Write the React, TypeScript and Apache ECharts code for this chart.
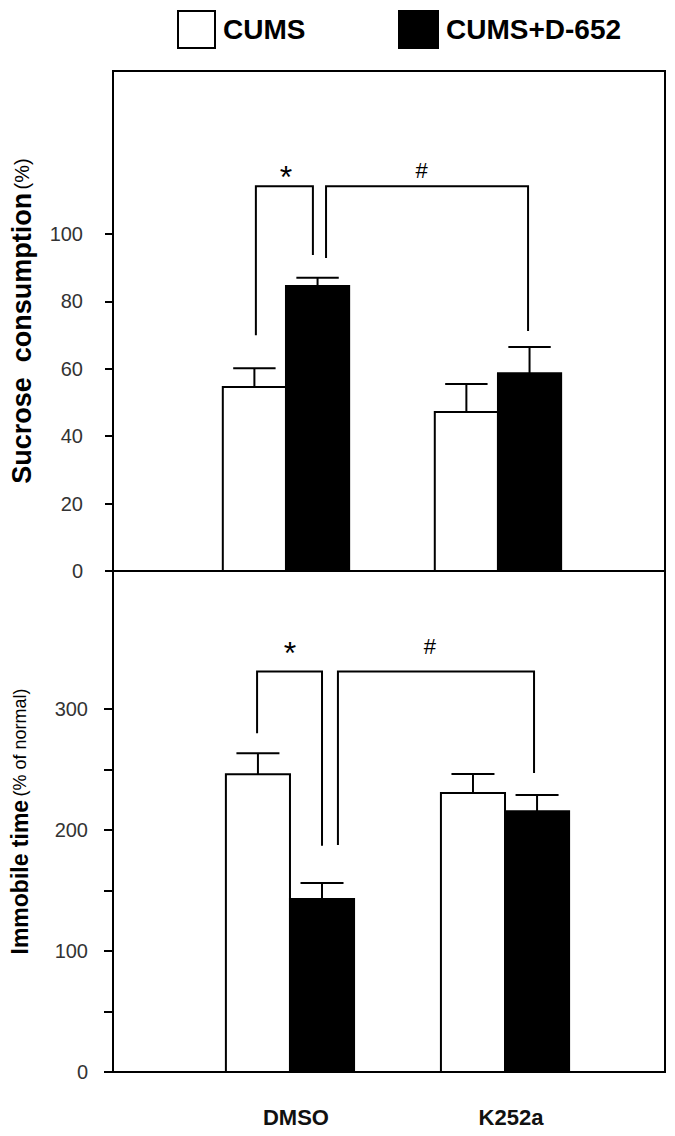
import React, { useEffect, useRef } from "react";
import * as echarts from "echarts";

// ---------- data ----------
const groups = ["DMSO", "K252a"];

const sucroseCUMS = [54.6, 47.2];
const sucroseCUMSErr = [5.6, 8.3];
const sucroseD652 = [84.6, 58.7];
const sucroseD652Err = [2.4, 7.8];

const immobileCUMS = [246, 230.5];
const immobileCUMSErr = [17.5, 15.8];
const immobileD652 = [143, 215.5];
const immobileD652Err = [13.2, 13.4];

const sucroseTicks = [0, 20, 40, 60, 80, 100];
const immobileTicks = [0, 50, 100, 150, 200, 250, 300];
const immobileLabels = [0, 100, 200, 300];

// significance brackets (data units): from, to, leftEnd, rightEnd, top, markX, markY
const sucroseBrackets = [
  [0.858, 1.127, 70, 93.8, 114.2, 1.0, 116.8],
  [1.189, 2.142, 92.9, 71.2, 114.2, 1.64, 119],
];
const sucroseMarks = ["*", "#"];
const immobileBrackets = [
  [0.847, 1.149, 280, 187, 331, 1.0, 346.5],
  [1.223, 2.135, 187.6, 247, 331, 1.651, 352],
];
const immobileMarks = ["*", "#"];

const FONT = "'Liberation Sans', Arial, sans-serif";
const BAR_W = 0.298;
const CAP_W = 0.2;

function barSeries(name: string, vals: number[], errs: number[], side: number, axis: number, fill: string) {
  return {
    type: "custom",
    name,
    xAxisIndex: axis,
    yAxisIndex: axis,
    itemStyle: { color: fill, borderColor: "#000", borderWidth: 2 },
    encode: { x: 0, y: 1 },
    data: vals.map((v, i) => [i + 1, v, errs[i]]),
    renderItem: (params: any, api: any) => {
      const x = api.value(0);
      const v = api.value(1);
      const e = api.value(2);
      const x0 = side < 0 ? x - BAR_W : x;
      const x1 = x0 + BAR_W;
      const xm = x0 + BAR_W / 2;
      const pBase = api.coord([x0, 0]);
      const pTop = api.coord([x1, v]);
      const pc = api.coord([xm, v]);
      const pe = api.coord([xm, v + e]);
      const cl = api.coord([xm - CAP_W / 2, v + e]);
      const cr = api.coord([xm + CAP_W / 2, v + e]);
      const ls = { stroke: "#000", lineWidth: 2 };
      return {
        type: "group",
        children: [
          { type: "line", shape: { x1: pc[0], y1: pc[1], x2: pe[0], y2: pe[1] }, style: ls },
          { type: "line", shape: { x1: cl[0], y1: cl[1], x2: cr[0], y2: cr[1] }, style: ls },
          {
            type: "rect",
            shape: { x: pBase[0], y: pTop[1], width: pTop[0] - pBase[0], height: pBase[1] - pTop[1] },
            style: { fill, stroke: "#000", lineWidth: 2 },
          },
        ],
      };
    },
  };
}

function bracketSeries(data: number[][], marks: string[], axis: number, markSizes: number[]) {
  return {
    type: "custom",
    name: "significance",
    xAxisIndex: axis,
    yAxisIndex: axis,
    silent: true,
    encode: { x: [0, 1], y: [2, 3, 4] },
    data,
    renderItem: (params: any, api: any) => {
      const from = api.value(0);
      const to = api.value(1);
      const le = api.value(2);
      const re = api.value(3);
      const top = api.value(4);
      const mx = api.value(5);
      const my = api.value(6);
      const pts = [api.coord([from, le]), api.coord([from, top]), api.coord([to, top]), api.coord([to, re])];
      const pm = api.coord([mx, my]);
      const mark = marks[params.dataIndex];
      return {
        type: "group",
        children: [
          { type: "polyline", shape: { points: pts }, style: { stroke: "#000", lineWidth: 2, fill: "none" } },
          {
            type: "text",
            x: pm[0],
            y: pm[1],
            style: {
              text: mark,
              fontSize: markSizes[params.dataIndex],
              fontFamily: FONT,
              align: "center",
              verticalAlign: "middle",
              fill: "#000",
            },
          },
        ],
      };
    },
  };
}

export default function App() {
  const ref = useRef<HTMLDivElement>(null);
  useEffect(() => {
    document.body.style.margin = "0";
    const chart = echarts.init(ref.current!, null, { renderer: "svg" });
    const axisLineStyle = { color: "#000", width: 2 };
    const legendText = { fontFamily: FONT, fontWeight: "bold", fontSize: 28, color: "#000", padding: [0, 0, 0, 3] };
    chart.setOption({
      animation: false,
      backgroundColor: "#fff",
      legend: [
        {
          left: 172,
          top: 5,
          itemWidth: 37,
          itemHeight: 37,
          selectedMode: false,
          textStyle: legendText,
          data: [{ name: "CUMS", icon: "rect", itemStyle: { color: "#fff", borderColor: "#000", borderWidth: 2 } }],
        },
        {
          left: 393,
          top: 5,
          itemWidth: 39,
          itemHeight: 37,
          selectedMode: false,
          textStyle: legendText,
          data: [{ name: "CUMS+D-652", icon: "rect", itemStyle: { color: "#000", borderColor: "#000", borderWidth: 2 } }],
        },
      ],
      grid: [
        { left: 113, top: 71, width: 552, height: 500, show: true, borderColor: "#000", borderWidth: 2, backgroundColor: "transparent" },
        { left: 113, top: 571, width: 552, height: 501, show: true, borderColor: "#000", borderWidth: 2, backgroundColor: "transparent" },
      ],
      xAxis: [
        { type: "value", gridIndex: 0, min: 0.184, max: 2.788, show: false },
        {
          type: "value",
          gridIndex: 1,
          min: 0.177,
          max: 2.744,
          axisLine: { show: false },
          axisTick: { show: false },
          splitLine: { show: false },
          axisLabel: {
            customValues: [1, 2],
            formatter: (v: number) => groups[Math.round(v) - 1],
            margin: 34,
            fontSize: 22,
            fontWeight: "bold",
            fontFamily: FONT,
            color: "#111",
            padding: [0, 0, 0, 12],
          },
        },
      ],
      yAxis: [
        {
          type: "value",
          gridIndex: 0,
          min: 0,
          max: 148.4,
          axisLine: { show: true, lineStyle: axisLineStyle },
          axisTick: { show: true, length: 8, customValues: sucroseTicks, lineStyle: axisLineStyle },
          axisLabel: { customValues: sucroseTicks, margin: 30, fontSize: 20, fontFamily: FONT, color: "#333" },
          splitLine: { show: false },
          name: "{b|Sucrose  consumption} {n|(%)}",
          nameLocation: "middle",
          nameRotate: 90,
          nameGap: 78,
          nameTextStyle: {
            rich: {
              b: { fontSize: 27, fontWeight: "bold", fontFamily: FONT, color: "#000" },
              n: { fontSize: 20, fontFamily: FONT, color: "#000" },
            },
          },
        },
        {
          type: "value",
          gridIndex: 1,
          min: 0,
          max: 414,
          axisLine: { show: true, lineStyle: axisLineStyle },
          axisTick: { show: true, length: 9, customValues: immobileTicks, lineStyle: axisLineStyle },
          axisLabel: { customValues: immobileLabels, margin: 25, fontSize: 20, fontFamily: FONT, color: "#333" },
          splitLine: { show: false },
          name: "{b|Immobile time} {n|(% of normal)}",
          nameLocation: "middle",
          nameRotate: 90,
          nameGap: 82,
          nameTextStyle: {
            rich: {
              b: { fontSize: 23, fontWeight: "bold", fontFamily: FONT, color: "#000" },
              n: { fontSize: 18, fontFamily: FONT, color: "#000" },
            },
          },
        },
      ],
      series: [
        barSeries("CUMS", sucroseCUMS, sucroseCUMSErr, -1, 0, "#fff"),
        barSeries("CUMS+D-652", sucroseD652, sucroseD652Err, 1, 0, "#000"),
        barSeries("CUMS", immobileCUMS, immobileCUMSErr, -1, 1, "#fff"),
        barSeries("CUMS+D-652", immobileD652, immobileD652Err, 1, 1, "#000"),
        bracketSeries(sucroseBrackets, sucroseMarks, 0, [32, 22]),
        bracketSeries(immobileBrackets, immobileMarks, 1, [32, 22]),
      ],
    });
    return () => chart.dispose();
  }, []);
  return <div ref={ref} style={{ width: 675, height: 1136 }} />;
}
